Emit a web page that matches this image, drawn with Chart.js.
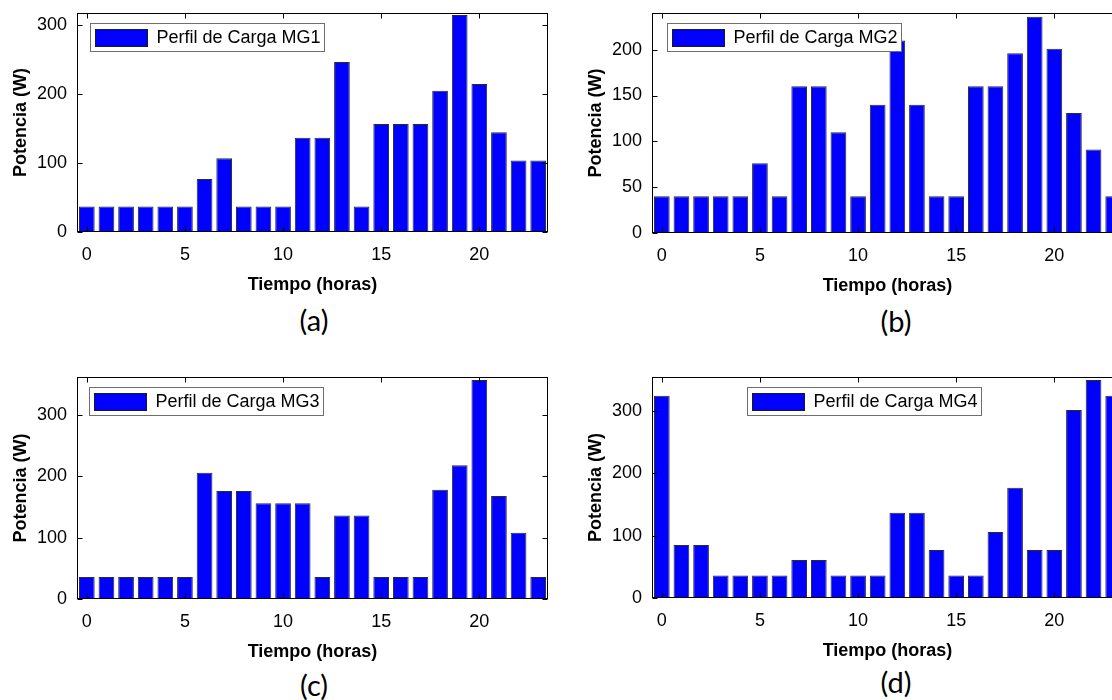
<!DOCTYPE html>
<html lang="es">
<head>
  <meta charset="UTF-8" />
  <title>Perfiles de Carga MG1 - MG4</title>
  <style>
    html, body {
      margin: 0;
      padding: 0;
      background: #fff;
    }
    body {
      position: relative;
      width: 1112px;
      height: 700px;
      overflow: hidden;
    }
    .panel {
      position: absolute;
    }
    .panel canvas {
      display: block;
    }
    /* sub-figure captions (a)..(d) */
    .caption {
      position: absolute;
      transform: translate(-50%, -50%);
      font-family: Lato, "Open Sans", sans-serif;
      font-size: 29px;
      color: #000;
      white-space: nowrap;
    }
  </style>
</head>
<body>
  <div class="panel" style="left:0px;top:0px"><canvas id="chartMG1" width="560" height="296"></canvas></div>
  <div class="panel" style="left:575px;top:0px"><canvas id="chartMG2" width="560" height="297"></canvas></div>
  <div class="panel" style="left:0px;top:364px"><canvas id="chartMG3" width="560" height="299"></canvas></div>
  <div class="panel" style="left:575px;top:364px"><canvas id="chartMG4" width="560" height="298"></canvas></div>

  <div class="caption" style="left:314px;top:319px">(a)</div>
  <div class="caption" style="left:896px;top:320px">(b)</div>
  <div class="caption" style="left:314px;top:684px">(c)</div>
  <div class="caption" style="left:896px;top:681px">(d)</div>

  <script src="https://cdn.jsdelivr.net/npm/chart.js"></script>
  <script>
    // hours of the day
    const horas = [0, 1, 2, 3, 4, 5, 6, 7, 8, 9, 10, 11, 12, 13, 14, 15, 16, 17, 18, 19, 20, 21, 22, 23];

    // load profiles (W)
    const cargaMG1 = [37, 37, 37, 37, 37, 37, 77, 107, 37, 37, 37, 137, 137, 247, 37, 157, 157, 157, 205, 315, 215, 145, 104, 104];
    const cargaMG2 = [40, 40, 40, 40, 40, 76, 40, 160, 160, 110, 40, 140, 210, 140, 40, 40, 160, 160, 196, 236, 201, 131, 91, 40];
    const cargaMG3 = [36, 36, 36, 36, 36, 36, 206, 176, 176, 156, 156, 156, 36, 136, 136, 36, 36, 36, 178, 218, 357, 168, 108, 36];
    const cargaMG4 = [325, 85, 85, 36, 36, 36, 36, 61, 61, 36, 36, 36, 137, 137, 77, 36, 36, 106, 177, 77, 77, 302, 350, 325];

    // tick labels
    const ticksHoras = [0, 5, 10, 15, 20];
    const ticksMG1 = [0, 100, 200, 300];
    const ticksMG2 = [0, 50, 100, 150, 200];
    const ticksMG3 = [0, 100, 200, 300];
    const ticksMG4 = [0, 100, 200, 300];

    const fuente = "'Liberation Sans', Arial, Helvetica, sans-serif";

    // MATLAB style box: frame, inward ticks on all four sides and a legend inside the axes
    const marcoMatlab = {
      id: 'marcoMatlab',
      afterDatasetsDraw(chart, args, opts) {
        const { ctx, chartArea: a, scales: { x, y } } = chart;
        const L = Math.round(a.left) + 0.5, R = Math.round(a.right) - 0.5;
        const T = Math.round(a.top) + 0.5, B = Math.round(a.bottom) - 0.5;
        ctx.save();
        ctx.strokeStyle = '#000';
        ctx.lineWidth = 1;
        ctx.beginPath();
        x.ticks.forEach(t => {
          const px = Math.round(x.getPixelForValue(t.value)) + 0.5;
          ctx.moveTo(px, B); ctx.lineTo(px, B - 5);
          ctx.moveTo(px, T); ctx.lineTo(px, T + 5);
        });
        y.ticks.forEach(t => {
          const py = Math.round(y.getPixelForValue(t.value)) + 0.5;
          ctx.moveTo(L, py); ctx.lineTo(L + 5, py);
          ctx.moveTo(R, py); ctx.lineTo(R - 5, py);
        });
        ctx.stroke();
        ctx.strokeRect(L, T, R - L, B - T);

        // legend
        const texto = chart.data.datasets[0].label;
        ctx.font = '18px ' + fuente;
        const tw = ctx.measureText(texto).width;
        const bx = Math.round(a.left + opts.dx) + 0.5;
        const by = Math.round(a.top + opts.dy) + 0.5;
        const bw = Math.round(66 + tw + 4), bh = 28;
        ctx.fillStyle = '#fff';
        ctx.fillRect(bx, by, bw, bh);
        ctx.strokeStyle = '#6e6e6e';
        ctx.strokeRect(bx, by, bw, bh);
        ctx.fillStyle = '#0000ff';
        ctx.fillRect(bx + 5, by + 6, 52, 17);
        ctx.strokeStyle = '#1a1a1a';
        ctx.strokeRect(bx + 5, by + 6, 52, 17);
        ctx.fillStyle = '#000';
        ctx.textBaseline = 'middle';
        ctx.textAlign = 'left';
        ctx.fillText(texto, bx + 66, by + bh / 2 + 1);
        ctx.restore();
      }
    };

    function crearPerfil(id, etiqueta, valores, yMax, yTicks, legendDx) {
      const ctx = document.getElementById(id).getContext('2d');
      return new Chart(ctx, {
        type: 'bar',
        data: {
          datasets: [{
            label: etiqueta,
            data: horas.map((h, i) => ({ x: h, y: valores[i] })),
            backgroundColor: '#0000ff',
            borderColor: '#2b2b2b',
            borderWidth: 1,
            barPercentage: 0.8,
            categoryPercentage: 1.0
          }]
        },
        options: {
          responsive: false,
          animation: false,
          layout: { padding: { top: 13, right: 12, left: 0, bottom: 0 } },
          plugins: {
            legend: { display: false },
            tooltip: { enabled: false },
            marcoMatlab: { dx: legendDx, dy: 10 }
          },
          scales: {
            x: {
              type: 'linear',
              min: -0.5,
              max: 23.5,
              offset: false,
              grid: { display: false, drawTicks: false },
              border: { display: false },
              afterBuildTicks: s => { s.ticks = ticksHoras.map(v => ({ value: v })); },
              afterFit: s => { s.height = 64; s.paddingLeft = 0; s.paddingRight = 0; },
              ticks: {
                color: '#000',
                padding: 12,
                maxRotation: 0,
                font: { family: fuente, size: 18 }
              },
              title: {
                display: true,
                text: 'Tiempo (horas)',
                color: '#000',
                padding: { top: 0, bottom: 0 },
                font: { family: fuente, size: 18, weight: 'bold' }
              }
            },
            y: {
              min: 0,
              max: yMax,
              grid: { display: false, drawTicks: false },
              border: { display: false },
              afterBuildTicks: s => { s.ticks = yTicks.map(v => ({ value: v })); },
              afterFit: s => { s.width = 77; s.paddingTop = 0; s.paddingBottom = 0; },
              ticks: {
                color: '#000',
                padding: 10,
                font: { family: fuente, size: 18 }
              },
              title: {
                display: true,
                text: 'Potencia (W)',
                color: '#000',
                padding: { top: 10, bottom: 0 },
                font: { family: fuente, size: 18, weight: 'bold' }
              }
            }
          }
        },
        plugins: [marcoMatlab]
      });
    }

    crearPerfil('chartMG1', 'Perfil de Carga MG1', cargaMG1, 318, ticksMG1, 13);
    crearPerfil('chartMG2', 'Perfil de Carga MG2', cargaMG2, 240, ticksMG2, 15);
    crearPerfil('chartMG3', 'Perfil de Carga MG3', cargaMG3, 362, ticksMG3, 12);
    crearPerfil('chartMG4', 'Perfil de Carga MG4', cargaMG4, 355, ticksMG4, 95);
  </script>
</body>
</html>
